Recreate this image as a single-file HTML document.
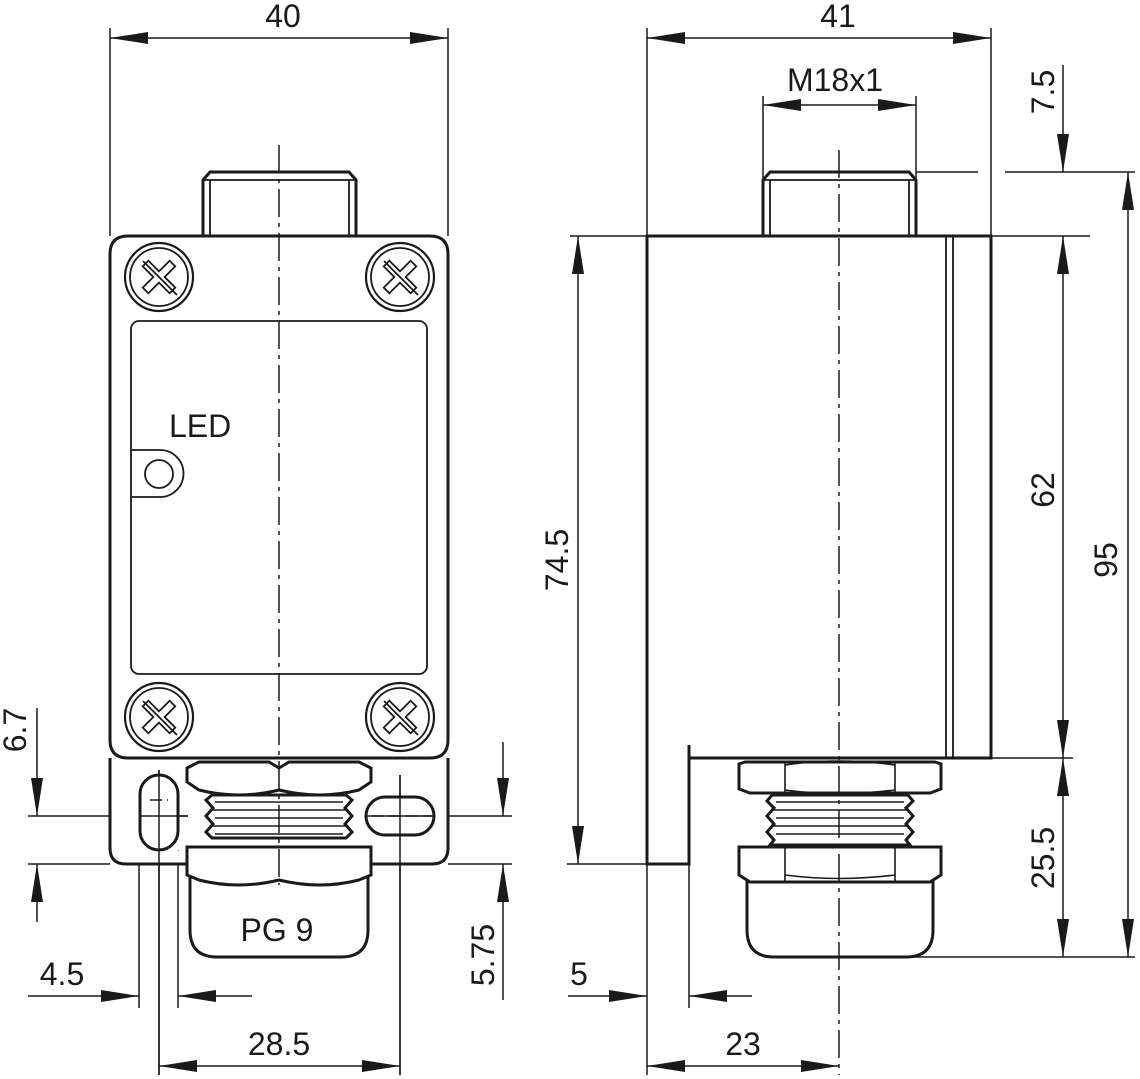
<!DOCTYPE html>
<html><head><meta charset="utf-8"><style>html,body{margin:0;padding:0;background:#fff}svg{display:block}</style></head><body>
<svg width="1140" height="1079" viewBox="0 0 1140 1079" xmlns="http://www.w3.org/2000/svg" font-family="Liberation Sans, sans-serif" font-size="32" fill="none" stroke="#1a1a1a">
<defs>
<marker id="a" markerUnits="userSpaceOnUse" markerWidth="40" markerHeight="14" refX="38" refY="6" orient="auto-start-reverse"><path d="M0,0 L38,6 L0,12 Z" fill="#1a1a1a" stroke="none"/></marker>
</defs>
<g stroke-width="1.5">
<!-- LEFT dims -->
<path d="M110,28V236M448,28V236"/>
<path d="M110,38H448" marker-start="url(#a)" marker-end="url(#a)"/>
<path d="M28,816H188M28,864H110"/>
<path d="M37,708V816" marker-end="url(#a)"/><path d="M37,922V864" marker-end="url(#a)"/>
<path d="M434,816H512M448,864H512"/>
<path d="M503,742V816" marker-end="url(#a)"/><path d="M503,1000V864" marker-end="url(#a)"/>
<path d="M139,850V1008M178,850V1008M159,770V1075M400,775V1075"/>
<path d="M28,996H139" marker-end="url(#a)"/><path d="M252,996H178" marker-end="url(#a)"/>
<path d="M159,1066H400" marker-start="url(#a)" marker-end="url(#a)"/>
<!-- RIGHT dims -->
<path d="M647,28V236M991,28V236"/>
<path d="M647,38H991" marker-start="url(#a)" marker-end="url(#a)"/>
<path d="M763,96V178M916,96V178"/>
<path d="M763,105H916" marker-start="url(#a)" marker-end="url(#a)"/>
<path d="M916,172H978M1005,172H1135M570,236H1090M991,758H1073M905,957H1135M567,864H647"/>
<path d="M1063,65V172" marker-end="url(#a)"/>
<path d="M1063,236V758" marker-start="url(#a)" marker-end="url(#a)"/>
<path d="M1063,758V957" marker-start="url(#a)" marker-end="url(#a)"/>
<path d="M1128,172V957" marker-start="url(#a)" marker-end="url(#a)"/>
<path d="M578,236V864" marker-start="url(#a)" marker-end="url(#a)"/>
<path d="M647,864V1075M689,864V1008"/>
<path d="M568,996H647" marker-end="url(#a)"/><path d="M752,996H689" marker-end="url(#a)"/>
<path d="M647,1066H839" marker-start="url(#a)" marker-end="url(#a)"/>
</g>
<!-- LEFT VIEW -->
<g stroke-width="3" fill="#fff">
<path d="M203,236V180L210,172H349L356,180V236"/>
<path d="M110,758V848Q110,864 126,864H188M370,864H432Q448,864 448,848V758" />
<path d="M110,254Q110,236 128,236H430Q448,236 448,254V740Q448,758 430,758H128Q110,758 110,740Z"/>
</g>
<g stroke-width="1.8" fill="none">
<path d="M210,236V180M349,236V180M203,180H356"/>
<rect x="131" y="321" width="296" height="353" rx="8"/>
<path d="M131,450H160A23,23 0 0 1 160,497H131"/>
<circle cx="159" cy="474" r="14"/>
</g>
<g id="sc">
<circle cx="159" cy="277" r="34" stroke-width="2.2" fill="#fff"/><circle cx="159" cy="277" r="29" stroke-width="1.8"/>
<path transform="translate(159,277) rotate(45)" d="M-4,-19H4V-4H19V4H4V19H-4V4H-19V-4H-4Z" stroke-width="1.8"/>
<path d="M143,261L177,295" stroke-width="1.8"/>
</g>
<use href="#sc" x="241"/><use href="#sc" y="440"/><use href="#sc" x="241" y="440"/>
<g stroke-width="3" fill="#fff">
<rect x="140" y="775" width="38" height="75" rx="19"/>
<rect x="366" y="797" width="68" height="38" rx="19"/>
<path d="M187,768L199,762H269L279,768L289,762H359L371,768V782L359,790Q320,800 279,790Q238,800 199,790L187,782Z"/>
<path d="M212,795H346L352,800L345,808L352,816L345,824L352,832L346,838H212L206,832L213,824L206,816L213,808L206,800Z"/>
<path d="M190,875V930Q190,957 217,957H341Q368,957 368,930V875"/>
<path d="M187,847H371V875L359,880Q320,890 279,880Q238,890 199,880L187,875Z"/>
</g>
<g stroke-width="1.6"><path d="M215,802H343M210,810H348M215,818H343M210,826H348M215,834H343"/></g>
<g stroke-width="1.5">
<path d="M279,145V885" stroke-dasharray="28,6,4,6"/>
<path d="M159,770V1075M400,775V1075M141,816H188M366,816H434"/>
<path d="M150,800H168M372,816H432" stroke-dasharray="12,5"/>
</g>
<!-- RIGHT VIEW -->
<g stroke-width="3" fill="#fff">
<path d="M763,236V180L770,172H909L916,180V236"/>
<path d="M647,236H991V758H689V864H647Z"/>
<path d="M689,745V758" fill="none"/>
</g>
<g stroke-width="1.8">
<path d="M770,236V180M909,236V180M763,180H916M946,236V758M953,236V758"/>
</g>
<g stroke-width="3" fill="#fff">
<path d="M739,764L745,762H935L941,764V789L930,793H750L739,789Z"/>
<path d="M772,795H908L913,801L906,808L913,816L906,824L913,832L906,840L910,845H770L774,840L767,832L774,824L767,816L774,808L767,801Z"/>
<path d="M747,880V930Q747,957 774,957H906Q933,957 933,930V880"/>
<path d="M739,847H941V875L930,882H750L739,875Z"/>
</g>
<g stroke-width="1.6">
<path d="M785,762V793M895,762V793M785,847V882M895,847V882M785,765Q839,757 895,765M785,790Q839,797 895,790M785,875Q839,882 895,875"/>
<path d="M776,802H904M772,810H908M776,818H904M772,826H908M776,834H904"/>
</g>
<path d="M839,150V1075" stroke-width="1.5" stroke-dasharray="28,6,4,6"/>
<g fill="#1a1a1a" stroke="none">
<text x="283" y="27" text-anchor="middle">40</text>
<text x="838" y="27" text-anchor="middle">41</text>
<text x="835" y="91" text-anchor="middle">M18x1</text>
<text x="62" y="985" text-anchor="middle">4.5</text>
<text x="279" y="1055" text-anchor="middle">28.5</text>
<text x="579" y="985" text-anchor="middle">5</text>
<text x="743" y="1055" text-anchor="middle">23</text>
<text x="169" y="437">LED</text>
<text x="277" y="941" text-anchor="middle">PG 9</text>
<text transform="translate(26,730) rotate(-90)" text-anchor="middle">6.7</text>
<text transform="translate(494,955) rotate(-90)" text-anchor="middle">5.75</text>
<text transform="translate(568,560) rotate(-90)" text-anchor="middle">74.5</text>
<text transform="translate(1054,92) rotate(-90)" text-anchor="middle">7.5</text>
<text transform="translate(1054,490) rotate(-90)" text-anchor="middle">62</text>
<text transform="translate(1054,858) rotate(-90)" text-anchor="middle">25.5</text>
<text transform="translate(1117,560) rotate(-90)" text-anchor="middle">95</text>
</g>
</svg>
</body></html>
